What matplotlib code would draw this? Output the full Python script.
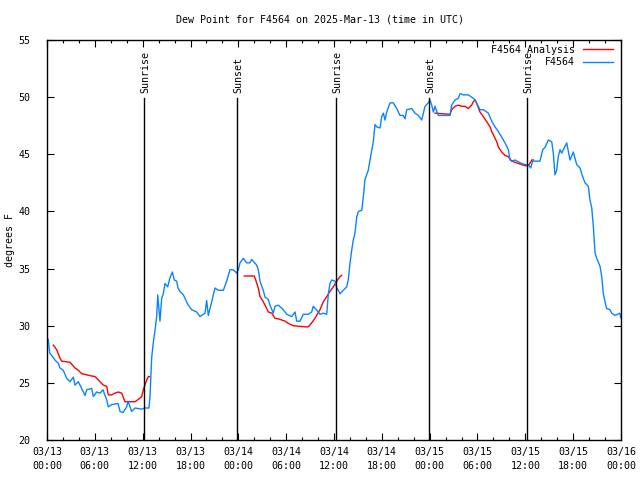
import numpy as np
import matplotlib.pyplot as plt

plt.rcParams['font.family'] = ['DejaVu Sans Mono']

# hours after 2025-03-13 00:00 UTC
obs_hours = [0.16, 0.34, 0.59, 1.0, 1.42, 1.63, 2.04, 2.47, 2.89, 3.3, 3.51, 3.93, 4.35, 4.77, 4.98,
             5.61, 5.81, 6.23, 6.65, 7.02, 7.49, 7.69, 8.12, 8.91, 9.16, 9.53, 10.0, 10.16, 10.62,
             11.04, 11.88, 12.29, 12.79, 12.92, 13.13, 13.33, 13.55, 13.76, 13.89, 14.17, 14.39,
             14.59, 14.8, 15.14, 15.43, 15.72, 15.97, 16.27, 16.43, 16.68, 17.1, 17.52, 17.72,
             18.15, 18.78, 19.19, 19.82, 20.03, 20.23, 20.66, 21.07, 21.49, 22.12, 22.54, 22.74,
             22.96, 23.37, 23.8, 24.0, 24.21, 24.62, 25.05, 25.46, 25.67, 26.3, 26.5, 26.72, 27.13,
             27.35, 27.76, 27.97, 28.39, 28.6, 29.01, 29.64, 30.07, 30.69, 31.11, 31.32, 31.74,
             32.15, 32.78, 33.2, 33.4, 34.03, 34.24, 34.66, 35.09, 35.29, 35.5, 35.71, 36.13,
             36.34, 36.54, 36.75, 37.17, 37.59, 37.79, 38.01, 38.22, 38.42, 38.63, 38.85, 39.05,
             39.48, 39.68, 39.89, 40.1, 40.3, 40.52, 40.93, 41.14, 41.36, 41.77, 41.98, 42.19,
             42.4, 42.61, 43.03, 43.44, 43.87, 44.28, 44.69, 44.91, 45.12, 45.75, 46.16, 46.58,
             47.0, 47.42, 47.83, 48.04, 48.26, 48.46, 48.67, 49.08, 50.55, 50.76, 51.18, 51.59,
             51.8, 52.22, 52.85, 53.47, 53.69, 54.1, 54.31, 54.73, 55.36, 55.78, 56.2, 56.61,
             57.04, 57.45, 57.87, 58.08, 58.29, 58.7, 59.54, 59.96, 60.37, 60.67, 60.92, 61.84,
             62.18, 62.47, 62.88, 63.31, 63.51, 63.72, 63.93, 64.13, 64.35, 64.56, 65.19, 65.6,
             66.02, 66.44, 66.86, 67.07, 67.27, 67.49, 67.9, 68.11, 68.33, 68.53, 68.74, 68.95,
             69.37, 69.58, 69.78, 69.99, 70.2, 70.62, 70.83, 71.24, 71.87, 71.96]
obs_dewpt = [28.8, 27.6, 27.4, 27.0, 26.7, 26.3, 26.1, 25.4, 25.1, 25.5, 24.8, 25.1, 24.5, 23.9, 24.4,
             24.5, 23.8, 24.2, 24.1, 24.4, 23.5, 22.9, 23.1, 23.2, 22.5, 22.4, 22.9, 23.4, 22.5,
             22.8, 22.7, 22.8, 22.8, 23.8, 27.2, 28.5, 29.6, 30.8, 32.7, 30.4, 32.4,
             32.8, 33.7, 33.4, 34.2, 34.7, 34.0, 33.9, 33.3, 33.0, 32.7, 32.1, 31.8,
             31.4, 31.2, 30.8, 31.1, 32.2, 30.9, 32.1, 33.3, 33.1, 33.1, 33.9, 34.4,
             34.9, 34.9, 34.6, 34.9, 35.5, 35.9, 35.5, 35.5, 35.8, 35.3, 34.9, 33.9, 33.1,
             32.5, 32.3, 31.8, 31.1, 31.7, 31.8, 31.4, 31.0, 30.8, 31.2, 30.4, 30.4,
             31.0, 31.0, 31.2, 31.7, 31.2, 31.0, 31.1, 31.0, 32.8, 33.7, 34.0, 33.9,
             33.3, 33.1, 32.8, 33.1, 33.4, 34.0, 35.5, 36.6, 37.5, 38.1, 39.5, 40.0,
             40.1, 41.3, 42.8, 43.2, 43.6, 44.5, 46.1, 47.6, 47.4, 47.3, 48.3, 48.6,
             48.0, 48.7, 49.5, 49.5, 49.0, 48.4, 48.4, 48.1, 48.9, 49.0, 48.6, 48.4,
             48.0, 49.2, 49.5, 49.75, 49.3, 48.7, 49.2, 48.4, 48.4, 49.3, 49.75, 49.9,
             50.3, 50.2, 50.2, 49.9, 49.75, 49.2, 48.9, 48.9, 48.6, 47.9, 47.4, 47.0,
             46.5, 46.0, 45.4, 44.5, 44.4, 44.5, 44.2, 44.1, 44.1, 43.8, 44.4, 44.4,
             45.4, 45.6, 46.25, 46.1, 45.1, 43.2, 43.6, 44.8, 45.4, 45.1, 46.0, 44.5,
             45.2, 44.1, 43.8, 43.3, 42.9, 42.5, 42.2, 41.0, 40.3, 38.7, 36.4, 35.9,
             35.2, 34.3, 32.8, 32.1, 31.5, 31.4, 31.1, 30.9, 31.1, 30.7]

# analysis, three morning runs split by NaN
ana_hours = [0.79, 1.22, 1.63, 1.84, 2.89, 3.51, 3.93, 4.35, 4.98, 5.61, 6.02, 6.44, 7.06, 7.49,
             7.69, 8.12, 8.53, 8.94, 9.37, 9.78, 11.04, 11.45, 11.88, 12.08, 12.51, 12.71, 12.92,
             np.nan,
             24.75, 26.0, 26.18, 26.5, 26.72, 27.13, 27.56, 27.76, 28.19, 28.6, 29.01, 29.44,
             29.85, 30.27, 30.9, 32.36, 32.78, 33.2, 33.62, 34.24, 34.66, 35.09, 35.5, 35.91,
             36.34, 36.75, 36.97,
             np.nan,
             48.67, 50.55, 50.76, 51.18, 51.59, 52.01, 52.43, 52.85, 53.27, 53.47, 53.69, 53.9,
             54.31, 54.73, 55.16, 55.57, 55.78, 56.2, 56.41, 56.61, 57.04, 57.45, 57.87, 58.29,
             58.7, 59.12, 59.54, 59.96, 60.37, 60.67, 60.8, 61.0]
ana_dewpt = [28.3, 27.9, 27.15, 26.9, 26.8, 26.3, 26.1, 25.8, 25.7, 25.6, 25.55, 25.25, 24.8, 24.7,
             23.95, 23.95, 24.1, 24.2, 24.1, 23.35, 23.35, 23.55, 23.8, 24.4, 25.25, 25.55, 25.55,
             np.nan,
             34.35, 34.35, 34.0, 33.3, 32.55, 32.1, 31.5, 31.2, 31.1, 30.65, 30.6, 30.5,
             30.4, 30.2, 30.0, 29.9, 29.9, 30.25, 30.65, 31.4, 32.1, 32.55, 33.0, 33.4,
             33.9, 34.3, 34.4,
             np.nan,
             48.6, 48.5, 48.9, 49.2, 49.3, 49.2, 49.2, 49.0, 49.3, 49.6, 49.75, 49.45,
             48.7, 48.3, 47.85, 47.4, 47.0, 46.4, 46.1, 45.65, 45.2, 44.9, 44.8, 44.4,
             44.3, 44.2, 44.1, 44.0, 44.0, 44.3, 44.5, 44.5]

sun_hours = [12.17, 23.83, 36.25, 47.92, 60.2]
sun_names = ["Sunrise", "Sunset", "Sunrise", "Sunset", "Sunrise"]

tick_hours = list(range(0, 73, 6))
tick_labels = ["03/13\n00:00", "03/13\n06:00", "03/13\n12:00", "03/13\n18:00",
               "03/14\n00:00", "03/14\n06:00", "03/14\n12:00", "03/14\n18:00",
               "03/15\n00:00", "03/15\n06:00", "03/15\n12:00", "03/15\n18:00",
               "03/16\n00:00"]

fig = plt.figure(figsize=(6.4, 4.8), dpi=100)
ax = fig.add_axes([47 / 640, 40 / 480, 574 / 640, 400 / 480])

ax.plot(ana_hours, ana_dewpt, color='#ff0000', lw=1, label='F4564 Analysis')
ax.plot(obs_hours, obs_dewpt, color='#0a84ff', lw=1, label='F4564')

for h, name in zip(sun_hours, sun_names):
    ax.plot([h, h], [20, 49.9], color='black', lw=1)
    ax.text(h + 0.2, 50.35, name, rotation=90, ha='center', va='bottom', fontsize=7.2)

ax.set_xlim(0, 72)
ax.set_ylim(20, 55)
ax.set_xticks(tick_hours)
ax.set_xticklabels(tick_labels, linespacing=1.5)
ax.set_xticks(range(0, 73, 2), minor=True)
ax.set_yticks(range(20, 56, 5))
ax.tick_params(which='both', direction='in', top=True, right=True, labelsize=7.2, width=0.8)
ax.tick_params(which='major', length=5, pad=5)
ax.tick_params(which='minor', length=2.5)
ax.tick_params(axis='y', pad=12)
for s in ax.spines.values():
    s.set_linewidth(1)

ax.set_ylabel('degrees F', fontsize=7.2)
ax.yaxis.set_label_coords(-(47 - 15) / 574, 0.5)
fig.text(0.5, (480 - 19) / 480, 'Dew Point for F4564 on 2025-Mar-13 (time in UTC)',
         ha='center', va='center', fontsize=7.2)

ax.legend(loc='upper right', bbox_to_anchor=(1.0, 1.008), frameon=False,
          markerfirst=False, fontsize=7.2, handlelength=3.0, handletextpad=0.8,
          labelspacing=0.25, borderaxespad=0.6, borderpad=0.2)

fig.savefig('out.png', dpi=100)
